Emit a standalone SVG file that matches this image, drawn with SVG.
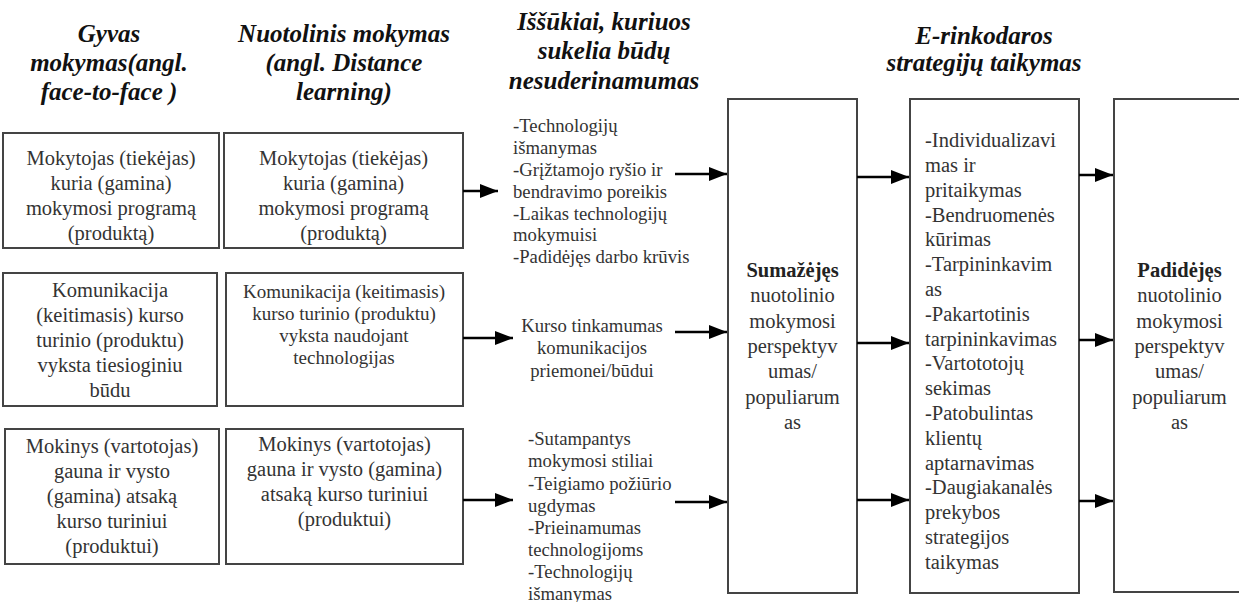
<svg xmlns="http://www.w3.org/2000/svg" width="1239" height="602" viewBox="0 0 1239 602">
<style>
.box{fill:#fff;stroke:#444;stroke-width:2}
.hd{font-family:'Liberation Serif',serif;font-weight:bold;font-style:italic;font-size:25px;fill:#111;text-anchor:middle}
.t{font-family:'Liberation Serif',serif;font-size:20.5px;fill:#333}
.m{font-family:'Liberation Serif',serif;font-size:19px;fill:#333}
.s{font-family:'Liberation Serif',serif;font-size:18.7px;fill:#333}
.c{text-anchor:middle}
.b{font-weight:bold;fill:#222}
.ar{stroke:#000;stroke-width:2.5;fill:none;marker-end:url(#ah)}
</style>
<defs>
<marker id="ah" markerUnits="userSpaceOnUse" markerWidth="20" markerHeight="16" refX="18" refY="7" orient="auto">
<path d="M0,0 L18,7 L0,14 z" fill="#000"/>
</marker>
</defs>
<rect width="1239" height="602" fill="#fff"/>

<g id="headers" font-family="Liberation Serif">
<text class="hd" font-family="Liberation Serif" x="109" y="42">Gyvas</text>
<text class="hd" font-family="Liberation Serif" x="109" y="71">mokymas(angl.</text>
<text class="hd" font-family="Liberation Serif" x="109" y="100">face-to-face )</text>
<text class="hd" font-family="Liberation Serif" x="344" y="42">Nuotolinis mokymas</text>
<text class="hd" font-family="Liberation Serif" x="344" y="71">(angl. Distance</text>
<text class="hd" font-family="Liberation Serif" x="344" y="100">learning)</text>
<text class="hd" font-family="Liberation Serif" x="604" y="30">Iššūkiai, kuriuos</text>
<text class="hd" font-family="Liberation Serif" x="604" y="59">sukelia būdų</text>
<text class="hd" font-family="Liberation Serif" x="604" y="89">nesuderinamumas</text>
<text class="hd" font-family="Liberation Serif" x="984" y="44">E-rinkodaros</text>
<text class="hd" font-family="Liberation Serif" x="984" y="71">strategijų taikymas</text>
</g>

<g id="n-f2f-1" font-family="Liberation Serif">
<rect class="box" x="3" y="133" width="216" height="115"/>
<text class="t c" font-family="Liberation Serif" x="111" y="165">Mokytojas (tiekėjas)</text>
<text class="t c" font-family="Liberation Serif" x="111" y="190">kuria (gamina)</text>
<text class="t c" font-family="Liberation Serif" x="111" y="215">mokymosi programą</text>
<text class="t c" font-family="Liberation Serif" x="111" y="240">(produktą)</text>
</g>
<g id="n-dl-1" font-family="Liberation Serif">
<rect class="box" x="224" y="133" width="239" height="115"/>
<text class="t c" font-family="Liberation Serif" x="343.5" y="165">Mokytojas (tiekėjas)</text>
<text class="t c" font-family="Liberation Serif" x="343.5" y="190">kuria (gamina)</text>
<text class="t c" font-family="Liberation Serif" x="343.5" y="215">mokymosi programą</text>
<text class="t c" font-family="Liberation Serif" x="343.5" y="240">(produktą)</text>
</g>
<g id="n-f2f-2" font-family="Liberation Serif">
<rect class="box" x="3" y="273" width="214" height="133"/>
<text class="t c" font-family="Liberation Serif" x="110" y="297">Komunikacija</text>
<text class="t c" font-family="Liberation Serif" x="110" y="322">(keitimasis) kurso</text>
<text class="t c" font-family="Liberation Serif" x="110" y="347">turinio (produktu)</text>
<text class="t c" font-family="Liberation Serif" x="110" y="372">vyksta tiesioginiu</text>
<text class="t c" font-family="Liberation Serif" x="110" y="397">būdu</text>
</g>
<g id="n-dl-2" font-family="Liberation Serif">
<rect class="box" x="226" y="273" width="237" height="133"/>
<text class="m c" font-family="Liberation Serif" x="344" y="298">Komunikacija (keitimasis)</text>
<text class="m c" font-family="Liberation Serif" x="344" y="320">kurso turinio (produktu)</text>
<text class="m c" font-family="Liberation Serif" x="344" y="342">vyksta naudojant</text>
<text class="m c" font-family="Liberation Serif" x="344" y="364">technologijas</text>
</g>
<g id="n-f2f-3" font-family="Liberation Serif">
<rect class="box" x="5" y="429" width="214" height="135"/>
<text class="t c" font-family="Liberation Serif" x="112" y="453">Mokinys (vartotojas)</text>
<text class="t c" font-family="Liberation Serif" x="112" y="478">gauna ir vysto</text>
<text class="t c" font-family="Liberation Serif" x="112" y="503">(gamina) atsaką</text>
<text class="t c" font-family="Liberation Serif" x="112" y="528">kurso turiniui</text>
<text class="t c" font-family="Liberation Serif" x="112" y="553">(produktui)</text>
</g>
<g id="n-dl-3" font-family="Liberation Serif">
<rect class="box" x="226" y="429" width="237" height="135"/>
<text class="t c" font-family="Liberation Serif" x="344.5" y="451">Mokinys (vartotojas)</text>
<text class="t c" font-family="Liberation Serif" x="344.5" y="476">gauna ir vysto (gamina)</text>
<text class="t c" font-family="Liberation Serif" x="344.5" y="501">atsaką kurso turiniui</text>
<text class="t c" font-family="Liberation Serif" x="344.5" y="526">(produktui)</text>
</g>

<g id="n-ch-1" font-family="Liberation Serif">
<text class="s" font-family="Liberation Serif" x="513" y="132">-Technologijų</text>
<text class="s" font-family="Liberation Serif" x="513" y="154">išmanymas</text>
<text class="s" font-family="Liberation Serif" x="513" y="176">-Grįžtamojo ryšio ir</text>
<text class="s" font-family="Liberation Serif" x="513" y="198">bendravimo poreikis</text>
<text class="s" font-family="Liberation Serif" x="513" y="220">-Laikas technologijų</text>
<text class="s" font-family="Liberation Serif" x="513" y="241">mokymuisi</text>
<text class="s" font-family="Liberation Serif" x="513" y="263">-Padidėjęs darbo krūvis</text>
</g>
<g id="n-ch-2" font-family="Liberation Serif">
<text class="s c" font-family="Liberation Serif" x="592" y="332">Kurso tinkamumas</text>
<text class="s c" font-family="Liberation Serif" x="592" y="354">komunikacijos</text>
<text class="s c" font-family="Liberation Serif" x="592" y="377">priemonei/būdui</text>
</g>
<g id="n-ch-3" font-family="Liberation Serif">
<text class="s" font-family="Liberation Serif" x="528" y="445">-Sutampantys</text>
<text class="s" font-family="Liberation Serif" x="528" y="467">mokymosi stiliai</text>
<text class="s" font-family="Liberation Serif" x="528" y="490">-Teigiamo požiūrio</text>
<text class="s" font-family="Liberation Serif" x="528" y="512">ugdymas</text>
<text class="s" font-family="Liberation Serif" x="528" y="534">-Prieinamumas</text>
<text class="s" font-family="Liberation Serif" x="528" y="556">technologijoms</text>
<text class="s" font-family="Liberation Serif" x="528" y="578">-Technologijų</text>
<text class="s" font-family="Liberation Serif" x="528" y="600">išmanymas</text>
</g>

<g id="n-decreased" font-family="Liberation Serif">
<rect class="box" x="728" y="99" width="129" height="494"/>
<text class="t c b" font-family="Liberation Serif" x="792.5" y="277">Sumažėjęs</text>
<text class="t c" font-family="Liberation Serif" x="792.5" y="302">nuotolinio</text>
<text class="t c" font-family="Liberation Serif" x="792.5" y="327.5">mokymosi</text>
<text class="t c" font-family="Liberation Serif" x="792.5" y="353">perspektyv</text>
<text class="t c" font-family="Liberation Serif" x="792.5" y="378">umas/</text>
<text class="t c" font-family="Liberation Serif" x="792.5" y="403.5">populiarum</text>
<text class="t c" font-family="Liberation Serif" x="792.5" y="429">as</text>
</g>

<g id="n-emarketing" font-family="Liberation Serif">
<rect class="box" x="910" y="99" width="169" height="494"/>
<text class="t" font-family="Liberation Serif" x="925" y="147">-Individualizavi</text>
<text class="t" font-family="Liberation Serif" x="925" y="172">mas ir</text>
<text class="t" font-family="Liberation Serif" x="925" y="196.5">pritaikymas</text>
<text class="t" font-family="Liberation Serif" x="925" y="221.5">-Bendruomenės</text>
<text class="t" font-family="Liberation Serif" x="925" y="246">kūrimas</text>
<text class="t" font-family="Liberation Serif" x="925" y="271">-Tarpininkavim</text>
<text class="t" font-family="Liberation Serif" x="925" y="296">as</text>
<text class="t" font-family="Liberation Serif" x="925" y="320.5">-Pakartotinis</text>
<text class="t" font-family="Liberation Serif" x="925" y="345.5">tarpininkavimas</text>
<text class="t" font-family="Liberation Serif" x="925" y="370">-Vartototojų</text>
<text class="t" font-family="Liberation Serif" x="925" y="395">sekimas</text>
<text class="t" font-family="Liberation Serif" x="925" y="420">-Patobulintas</text>
<text class="t" font-family="Liberation Serif" x="925" y="444.5">klientų</text>
<text class="t" font-family="Liberation Serif" x="925" y="469.5">aptarnavimas</text>
<text class="t" font-family="Liberation Serif" x="925" y="494">-Daugiakanalės</text>
<text class="t" font-family="Liberation Serif" x="925" y="519">prekybos</text>
<text class="t" font-family="Liberation Serif" x="925" y="544">strategijos</text>
<text class="t" font-family="Liberation Serif" x="925" y="569">taikymas</text>
</g>

<g id="n-increased" font-family="Liberation Serif">
<rect class="box" x="1114" y="99" width="135" height="493"/>
<text class="t c b" font-family="Liberation Serif" x="1179.5" y="277">Padidėjęs</text>
<text class="t c" font-family="Liberation Serif" x="1179.5" y="302">nuotolinio</text>
<text class="t c" font-family="Liberation Serif" x="1179.5" y="327.5">mokymosi</text>
<text class="t c" font-family="Liberation Serif" x="1179.5" y="353">perspektyv</text>
<text class="t c" font-family="Liberation Serif" x="1179.5" y="378">umas/</text>
<text class="t c" font-family="Liberation Serif" x="1179.5" y="403.5">populiarum</text>
<text class="t c" font-family="Liberation Serif" x="1179.5" y="429">as</text>
</g>

<g id="connectors">
<line class="ar" x1="463" y1="191" x2="498" y2="191"/>
<line class="ar" x1="463" y1="338" x2="513" y2="338"/>
<line class="ar" x1="463" y1="500" x2="513" y2="500"/>
<line class="ar" x1="675" y1="174" x2="727" y2="174"/>
<line class="ar" x1="675" y1="332" x2="727" y2="332"/>
<line class="ar" x1="675" y1="502" x2="727" y2="502"/>
<line class="ar" x1="857" y1="177" x2="909" y2="177"/>
<line class="ar" x1="857" y1="343" x2="909" y2="343"/>
<line class="ar" x1="857" y1="500" x2="909" y2="500"/>
<line class="ar" x1="1079" y1="175" x2="1113" y2="175"/>
<line class="ar" x1="1079" y1="340" x2="1113" y2="340"/>
<line class="ar" x1="1079" y1="501" x2="1113" y2="501"/>
</g>
</svg>
